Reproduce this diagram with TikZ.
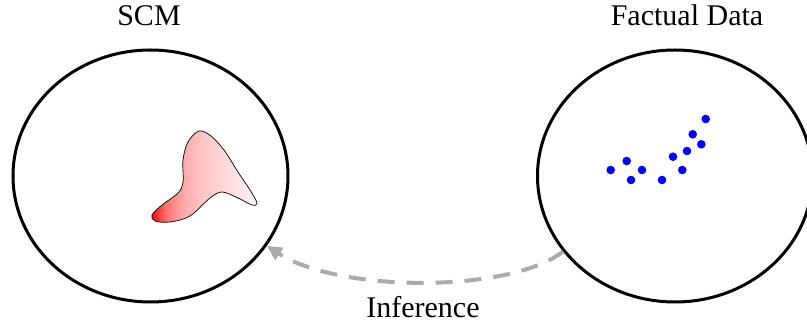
\documentclass[tikz,border=0pt]{standalone}
\usepackage{fontspec}
\setmainfont{Liberation Serif}
\usetikzlibrary{shapes.geometric,arrows.meta}
% red-to-pale horizontal fade for the blob (path box maps to 25bp..75bp)
\pgfdeclarehorizontalshading{blobfade}{100bp}{%
  color(0bp)=(red); color(25bp)=(red); color(32bp)=(red!55);
  color(41bp)=(red!32); color(50bp)=(red!22); color(67bp)=(red!10);
  color(75bp)=(red!5); color(100bp)=(red!5)}
\begin{document}
\begin{tikzpicture}[x=1pt,y=-1pt,
  region/.style={draw=black, line width=3pt, ellipse, inner sep=0pt,
                 minimum width=275pt, minimum height=252pt},
  title/.style={font=\fontsize{30}{36}\selectfont, anchor=base, inner sep=0pt},
  sample/.style={circle, fill=blue, inner sep=0pt, minimum size=8.6pt},
  infer/.style={draw=black!33, line width=4pt, dash pattern=on 17pt off 12pt,
                -{Triangle[length=15pt,width=14pt,fill=black!33]}}]
\useasboundingbox (0,0) rectangle (807,328);

% the two regions
\node[region] (scm)  at (150.5,176) {};
\node[region] (data) at (675,176) {};

% titles
\node[title] (scmlabel)  at (149,26) {SCM};
\node[title] (datalabel) at (687,26) {Factual Data};
\node[title] (inflabel)  at (423,318) {Inference};

% shaded blob inside the model region
\draw[line width=0.7pt, shading=blobfade]
  plot[smooth cycle, tension=0.55] coordinates {
    (152,215) (162,205) (178,193) (183,182) (183,160) (188,142) (199,131)
    (211,136) (224,150) (238,172) (250,190) (257,203) (252,205) (238,198)
    (222,192) (210,198) (190,216) (170,222) (155,221)};

% observed samples
\node[sample] (s1)  at (610.7,170) {};
\node[sample] (s2)  at (626.7,161) {};
\node[sample] (s3)  at (631,180) {};
\node[sample] (s4)  at (642,170) {};
\node[sample] (s5)  at (662,180) {};
\node[sample] (s6)  at (673,156.7) {};
\node[sample] (s7)  at (682.3,170) {};
\node[sample] (s8)  at (687,151) {};
\node[sample] (s9)  at (692.7,134.3) {};
\node[sample] (s10) at (701.3,144.3) {};
\node[sample] (s11) at (705.7,119) {};

% inference arrow from the data back to the model
\draw[infer] (data.214) .. controls (510,293) and (340,293) .. (scm.-31);
\end{tikzpicture}
\end{document}
